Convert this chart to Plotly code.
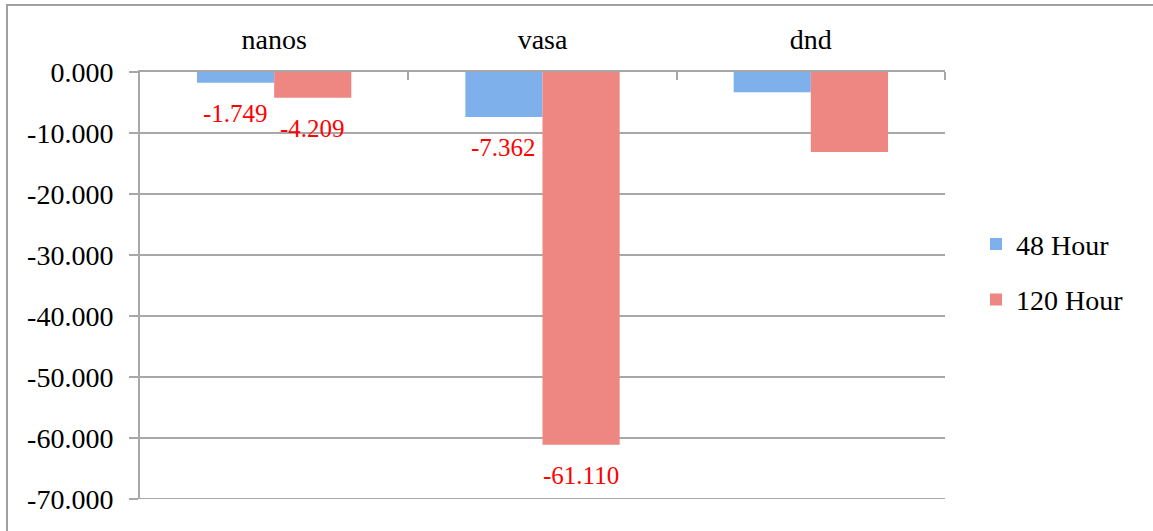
import plotly.graph_objects as go

categories = ["nanos", "vasa", "dnd"]
series_names = ["48 Hour", "120 Hour"]
values_48 = [-1.749, -7.362, -3.3]
values_120 = [-4.209, -61.110, -13.1]
label_shown = [True, True, False]
y_ticks = [0, -10, -20, -30, -40, -50, -60, -70]
y_tick_text = ["0.000", "-10.000", "-20.000", "-30.000", "-40.000", "-50.000", "-60.000", "-70.000"]

W, H = 1153, 531
ML, MR, MT, MB = 140, 208, 72, 32
PW, PH = W - ML - MR, H - MT - MB

FONT = "Liberation Serif"
GRID = "#a8a8a8"
colors = ["#7eb0eb", "#ee8682"]

fig = go.Figure()
for name, vals, col in zip(series_names, [values_48, values_120], colors):
    fig.add_trace(go.Bar(
        x=categories, y=vals, name=name, legendgroup=name,
        marker=dict(color=col, line=dict(width=0)),
    ))

bar_w = PW / len(categories) * (1 - 0.425) / 2
for si, vals in enumerate([values_48, values_120]):
    shift = (-0.5 if si == 0 else 0.5) * bar_w
    for cat, v, show in zip(categories, vals, label_shown):
        if not show:
            continue
        fig.add_annotation(
            x=cat, y=v, text=f"{v:.3f}", showarrow=False,
            xshift=shift, yshift=-31,
            font=dict(family=FONT, size=25, color="#ff0000"),
        )

# outer chart border (only top and left edges fall inside the canvas)
fig.add_shape(
    type="rect", xref="paper", yref="paper",
    x0=(7 - ML) / PW, x1=(W + 20 - ML) / PW,
    y0=(PH + MT - (H + 20)) / PH, y1=(PH + MT - 5) / PH,
    line=dict(color="#a0a0a0", width=2), fillcolor="rgba(0,0,0,0)", layer="below",
)
# bottom gridline at the range edge
fig.add_shape(
    type="line", xref="paper", yref="y", x0=0, x1=1,
    y0=y_ticks[-1], y1=y_ticks[-1],
    line=dict(color=GRID, width=2), layer="below",
)
# end tick of the category axis
fig.add_shape(
    type="line", xref="paper", yref="paper", x0=1, x1=1,
    y0=1, y1=1 - 8 / PH,
    line=dict(color=GRID, width=2), layer="above",
)

fig.update_layout(
    width=W, height=H,
    margin=dict(l=ML, r=MR, t=MT, b=MB, autoexpand=False),
    paper_bgcolor="white", plot_bgcolor="white",
    barmode="group", bargap=0.425, bargroupgap=0,
    font=dict(family=FONT, size=28, color="black"),
    legend=dict(
        x=(976 - ML) / PW, xanchor="left", y=0.655, yanchor="top",
        font=dict(family=FONT, size=28, color="black"),
        tracegroupgap=16, bgcolor="rgba(0,0,0,0)",
    ),
    xaxis=dict(
        type="category", side="top", range=[-0.5, 2.5],
        showline=True, linecolor=GRID, linewidth=2,
        ticks="inside", tickson="boundaries", ticklen=8, tickcolor=GRID, tickwidth=2,
        showgrid=False, automargin=False, ticklabelstandoff=10,
        tickfont=dict(family=FONT, size=28, color="black"),
    ),
    yaxis=dict(
        range=[-70, 0], tickvals=y_ticks, ticktext=y_tick_text,
        showline=True, linecolor=GRID, linewidth=2,
        ticks="outside", ticklen=9, tickcolor=GRID, tickwidth=2,
        showgrid=True, gridcolor=GRID, gridwidth=2, zeroline=False,
        ticklabelstandoff=10, automargin=False,
        tickfont=dict(family=FONT, size=28, color="black"),
    ),
)

fig.write_html(
    "out.html",
    config={"displayModeBar": False},
    post_script="document.body.style.margin='0';document.body.style.overflow='hidden';",
)
